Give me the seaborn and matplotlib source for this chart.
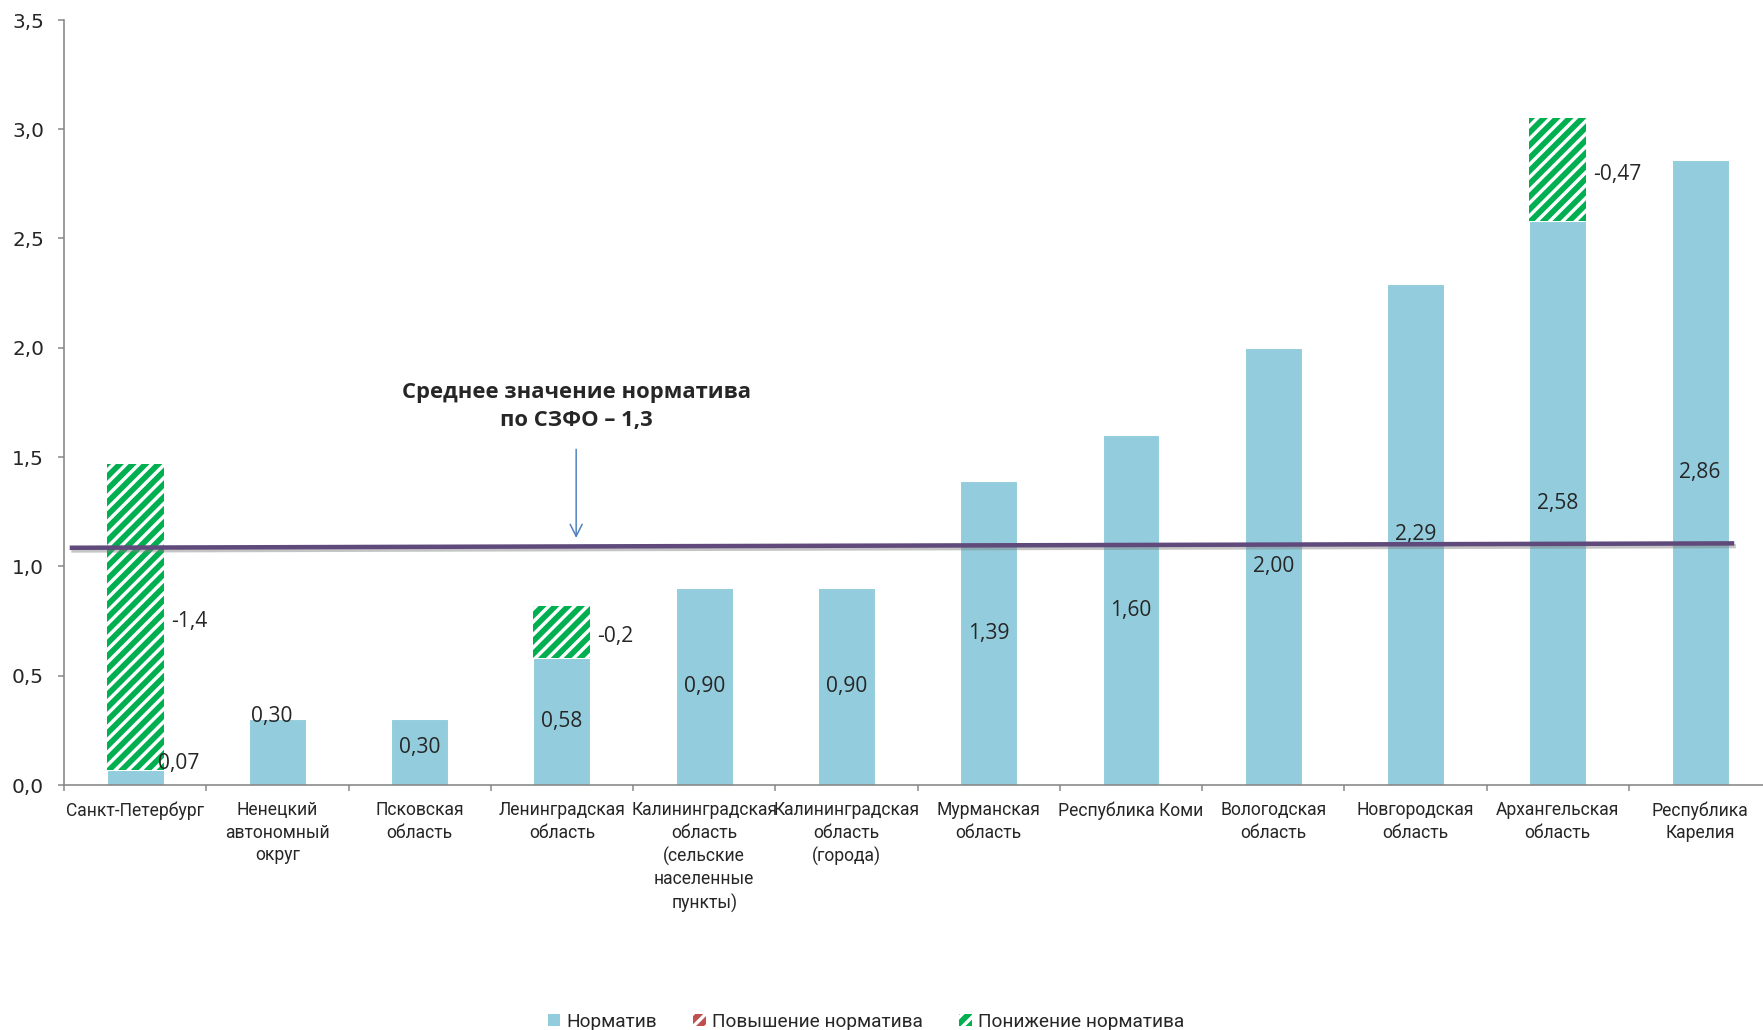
import matplotlib
matplotlib.use('Agg')
import matplotlib.pyplot as plt
import matplotlib.patheffects as pe
from matplotlib.patches import Patch
from matplotlib.ticker import FuncFormatter
import numpy as np
import pandas as pd
import seaborn as sns

# data
regions = [
    'Санкт-Петербург',
    'Ненецкий\nавтономный\nокруг',
    'Псковская\nобласть',
    'Ленинградская\nобласть',
    'Калининградская\nобласть\n(сельские\nнаселенные\nпункты)',
    'Калининградская\nобласть\n(города)',
    'Мурманская\nобласть',
    'Республика Коми',
    'Вологодская\nобласть',
    'Новгородская\nобласть',
    'Архангельская\nобласть',
    'Республика\nКарелия',
]
normative = [0.07, 0.30, 0.30, 0.58, 0.90, 0.90, 1.39, 1.60, 2.00, 2.29, 2.58, 2.86]
normative_labels = ['0,07', '0,30', '0,30', '0,58', '0,90', '0,90',
                    '1,39', '1,60', '2,00', '2,29', '2,58', '2,86']
decrease = [1.40, 0, 0, 0.24, 0, 0, 0, 0, 0, 0, 0.47, 0]
decrease_labels = ['-1,4', '', '', '-0,2', '', '', '', '', '', '', '-0,47', '']
avg_x = [-0.46, 11.24]
avg_y = [1.085, 1.105]
avg_text = 'Среднее значение норматива\nпо СЗФО – 1,3'
legend_labels = ['Норматив', 'Повышение норматива', 'Понижение норматива']

DPI = 77
def px(v):
    # pixel size -> points at this dpi
    return v * 72 / DPI

BLUE = '#93CDDD'
GREEN = '#00B050'
RED = '#C0504D'
PURPLE = '#604A7B'
GREY = '#868686'

sns.set_theme(style='white')
plt.rcParams['font.family'] = ['Open Sans', 'DejaVu Sans']
plt.rcParams['hatch.linewidth'] = px(3.4)
plt.rcParams['hatch.color'] = 'white'

narrow = ['Roboto', 'DejaVu Sans']

fig = plt.figure(figsize=(1763.2 / DPI, 1030.2 / DPI), dpi=DPI)
ax = fig.add_axes([64 / 1763, 1 - 785 / 1030, 1707 / 1763, 765 / 1030])

df = pd.DataFrame({'region': regions, 'normative': normative})
sns.barplot(data=df, x='region', y='normative', color=BLUE, saturation=1,
            width=0.4, errorbar=None, ax=ax, zorder=2)

x = np.arange(len(regions))
ax.bar(x, decrease, bottom=normative, width=0.4, color=GREEN,
       edgecolor='white', linewidth=0, hatch='//', zorder=2)

# value labels
for i, (v, lab) in enumerate(zip(normative, normative_labels)):
    if i == 0:
        ax.text(i + 0.16, v + 0.03, lab, ha='left', va='center',
                fontsize=px(21), zorder=3)
    elif i == 1:
        ax.text(i - 0.04, v + 0.015, lab, ha='center', va='center',
                fontsize=px(21), zorder=3)
    else:
        ax.text(i, max(v / 2, 0.17), lab, ha='center', va='center',
                fontsize=px(21), zorder=3)

for i, (d, lab) in enumerate(zip(decrease, decrease_labels)):
    if d > 0:
        ax.text(i + 0.25, normative[i] + d / 2 - 0.02, lab, ha='left',
                va='center', fontsize=px(21), zorder=3)

# average line with a soft shadow
ax.plot(avg_x, avg_y, color=PURPLE, lw=px(4.5), solid_capstyle='butt', zorder=4,
        path_effects=[pe.SimpleLineShadow(offset=(1.5, -2.5), shadow_color='gray', alpha=0.45),
                      pe.Normal()])

ax.annotate('', xy=(3.10, 1.12), xytext=(3.10, 1.545),
            arrowprops=dict(arrowstyle='->', color='#4F81BD', lw=px(1.5),
                            mutation_scale=px(30)), zorder=5)
ax.text(3.10, 1.732, avg_text, ha='center', va='center', fontsize=px(22),
        fontweight='bold', linespacing=1.4, zorder=5)

# axes styling
ax.set_xlim(-0.5, 11.5)
ax.set_ylim(0, 3.5)
ax.set_yticks(np.arange(0, 3.51, 0.5))
ax.yaxis.set_major_formatter(FuncFormatter(lambda v, p: f'{v:.1f}'.replace('.', ',')))
ax.set_xlabel('')
ax.set_ylabel('')
for s in ['top', 'right']:
    ax.spines[s].set_visible(False)
for s in ['left', 'bottom']:
    ax.spines[s].set_color(GREY)
    ax.spines[s].set_linewidth(px(1.6))

ax.tick_params(axis='y', which='major', left=True, direction='out', length=px(6),
               width=px(1.5), color=GREY, pad=px(14))
ax.tick_params(axis='x', which='major', bottom=False, length=0, pad=px(16))
ax.set_xticks(np.arange(-0.5, 12, 1), minor=True)
ax.tick_params(axis='x', which='minor', bottom=True, direction='out', length=px(6),
               width=px(1.5), color=GREY)
for t in ax.get_yticklabels():
    t.set_fontfamily('DejaVu Sans')
    t.set_fontsize(px(20))
for t in ax.get_xticklabels():
    t.set_fontfamily(narrow)
    t.set_fontsize(px(17.5))
    t.set_linespacing(1.33)
    t.set_verticalalignment('top')

handles = [
    Patch(facecolor=BLUE, edgecolor='none'),
    Patch(facecolor=RED, edgecolor='white', linewidth=0, hatch='//'),
    Patch(facecolor=GREEN, edgecolor='white', linewidth=0, hatch='//'),
]
fig.legend(handles, legend_labels, loc='center', bbox_to_anchor=(866 / 1763, 0.008),
           ncol=3, frameon=False, prop={'family': narrow, 'size': px(19)},
           handlelength=0.65, handleheight=0.65, handletextpad=0.35, columnspacing=1.9)

fig.savefig('out.png', dpi=DPI, facecolor='white')
